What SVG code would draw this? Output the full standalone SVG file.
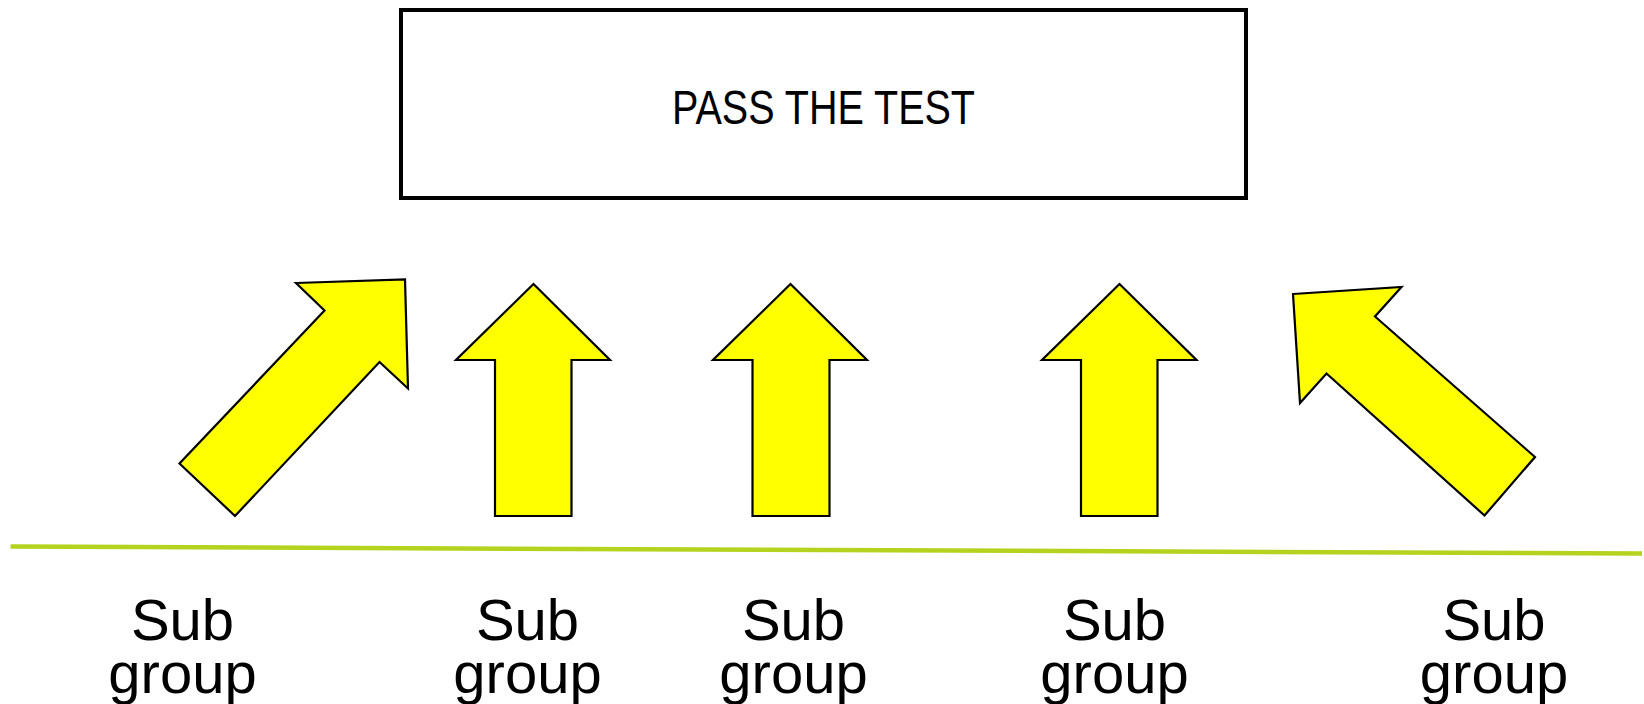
<svg xmlns="http://www.w3.org/2000/svg" width="1644" height="704" viewBox="0 0 1644 704">
<style>
.arrow{fill:#ffff00;stroke:#000;stroke-width:2.2;stroke-linejoin:miter}
.lbl{font-family:"Liberation Sans",Arial,sans-serif;font-size:58px;fill:#000;text-anchor:middle}
.title{font-family:"Liberation Sans",Arial,sans-serif;font-size:48px;fill:#000;text-anchor:middle}
</style>
<rect width="1644" height="704" fill="#fff"/>
<g id="goal">
<rect x="401" y="10" width="845" height="188" fill="#fff" stroke="#000" stroke-width="4"/>
<text class="title" x="823.5" y="124" textLength="303" lengthAdjust="spacingAndGlyphs">PASS THE TEST</text>
</g>
<g id="connectors">
<polygon class="arrow" points="296,283 405,279.5 408,388.5 379.5,362 235,516 179.5,463.5 324.5,310.5"/>
<polygon class="arrow" points="533.5,284 456,360 495,360 495,516 571.5,516 571.5,360 610,360"/>
<polygon class="arrow" points="790.5,284 713,360 752.5,360 752.5,516 829.5,516 829.5,360 867,360"/>
<polygon class="arrow" points="1119.5,284 1042,360 1081,360 1081,516 1157.5,516 1157.5,360 1196.5,360"/>
<polygon class="arrow" points="1293,294 1401.5,287 1375,316.5 1535,457 1484.5,515.5 1326.5,373.5 1300,403"/>
<line x1="10.5" y1="546.5" x2="1642" y2="553.5" stroke="#b3d31f" stroke-width="4.5"/>
</g>
<g id="sub1"><text class="lbl" x="182.5" y="640">Sub</text><text class="lbl" x="182.5" y="693">group</text></g>
<g id="sub2"><text class="lbl" x="527.5" y="640">Sub</text><text class="lbl" x="527.5" y="693">group</text></g>
<g id="sub3"><text class="lbl" x="793.5" y="640">Sub</text><text class="lbl" x="793.5" y="693">group</text></g>
<g id="sub4"><text class="lbl" x="1114.5" y="640">Sub</text><text class="lbl" x="1114.5" y="693">group</text></g>
<g id="sub5"><text class="lbl" x="1494" y="640">Sub</text><text class="lbl" x="1494" y="693">group</text></g>
</svg>
